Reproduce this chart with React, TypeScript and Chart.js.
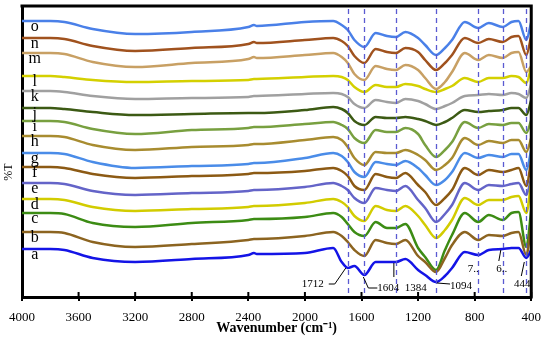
import React, { useEffect, useRef } from 'react';
import { Chart, registerables } from 'chart.js';

Chart.register(...registerables);

const wavenumbers = [4000, 3800, 3700, 3500, 3200, 2800, 2400, 2360, 2340, 2000, 1800, 1740, 1697, 1650, 1580, 1500, 1420, 1357, 1290, 1200, 1150, 1073, 1010, 960, 870, 775, 700, 601, 540, 490, 435, 400];

const seriesA = [51, 51, 50, 42, 38, 41, 45, 47, 46, 47, 52, 38, 32, 34, 25, 38, 38, 38, 41, 30, 25, 18, 24, 32, 48, 45, 50, 51, 52, 52, 42, 50];
const seriesB = [68, 68, 67, 58, 53, 56, 60, 61, 61, 64, 68, 64, 58, 50, 44, 60, 57, 56, 60, 44, 38, 28, 42, 55, 68, 60, 65, 64, 67, 68, 45, 75];
const seriesC = [87, 87, 86, 77, 73, 77, 80, 81, 81, 83, 87, 83, 76, 68, 64, 78, 72, 72, 76, 52, 43, 30, 50, 65, 87, 78, 85, 80, 87, 88, 53, 90];
const seriesD = [101, 101, 100, 93, 89, 91, 93, 94, 94, 97, 101, 98, 93, 84, 79, 94, 90, 89, 94, 84, 75, 62, 70, 80, 102, 95, 100, 100, 103, 104, 87, 118];
const seriesE = [117, 117, 116, 109, 105, 107, 109, 110, 110, 113, 117, 114, 110, 102, 97, 112, 110, 109, 114, 100, 92, 78, 86, 95, 117, 110, 115, 114, 116, 117, 105, 122];
const seriesF = [133, 133, 132, 126, 122, 124, 126, 127, 127, 129, 132, 129, 124, 114, 110, 126, 123, 122, 127, 115, 108, 95, 102, 110, 132, 125, 130, 128, 130, 132, 114, 140];
const seriesG = [147, 147, 146, 138, 132, 134, 136, 137, 137, 142, 147, 144, 138, 128, 123, 138, 136, 135, 139, 132, 125, 115, 120, 128, 147, 142, 145, 143, 146, 146, 130, 150];
const seriesH = [164, 164, 163, 155, 150, 153, 155, 156, 156, 160, 163, 160, 153, 142, 135, 148, 147, 147, 150, 145, 140, 130, 135, 142, 162, 155, 159, 157, 160, 160, 148, 162];
const seriesI = [179, 179, 178, 171, 166, 170, 172, 173, 173, 176, 178, 175, 171, 162, 157, 170, 168, 168, 172, 166, 155, 143, 150, 158, 178, 172, 176, 175, 177, 177, 167, 180];
const seriesJ = [192, 192, 191, 188, 185, 186, 187, 187, 187, 190, 193, 191, 187, 179, 175, 183, 182, 182, 183, 181, 179, 175, 178, 182, 190, 188, 189, 190, 192, 192, 185, 200];
const seriesK = [209, 209, 208, 204, 201, 202, 203, 204, 204, 206, 207, 206, 203, 196, 192, 200, 198, 197, 201, 199, 196, 191, 194, 197, 204, 205, 206, 205, 207, 206, 202, 216];
const seriesL = [224, 224, 223, 220, 218, 219, 220, 221, 221, 223, 224, 223, 220, 213, 208, 215, 213, 213, 216, 214, 211, 208, 211, 214, 222, 218, 222, 222, 224, 223, 217, 233];
const seriesM = [247, 247, 246, 238, 233, 237, 241, 243, 242, 245, 247, 243, 237, 226, 220, 234, 231, 230, 235, 230, 222, 211, 218, 228, 247, 240, 245, 242, 247, 248, 228, 234];
const seriesN = [262, 262, 261, 254, 249, 252, 256, 258, 257, 260, 262, 259, 254, 244, 237, 251, 248, 247, 252, 248, 240, 230, 237, 245, 262, 257, 261, 258, 263, 264, 245, 264];
const seriesO = [279, 279, 278, 271, 266, 268, 273, 275, 274, 278, 279, 275, 270, 260, 253, 267, 264, 263, 268, 262, 255, 245, 252, 260, 278, 272, 277, 273, 278, 279, 260, 278];

const seriesNames = ['a', 'b', 'c', 'd', 'e', 'f', 'g', 'h', 'i', 'j', 'k', 'l', 'm', 'n', 'o'];
const seriesValues = [seriesA, seriesB, seriesC, seriesD, seriesE, seriesF, seriesG, seriesH, seriesI, seriesJ, seriesK, seriesL, seriesM, seriesN, seriesO];
const seriesColors = [
  '#1414e6', '#8c6420', '#3c8c14', '#d2cc00', '#6464c8', '#8c5a14', '#4a8ce8', '#a88c30',
  '#78a040', '#3c5a14', '#a0a0a0', '#d4d000', '#c8a064', '#a0521e', '#4a80e8',
];

const xTickValues = [4000, 3600, 3200, 2800, 2400, 2000, 1600, 1200, 800, 400];
const bandWavenumbers = [1697, 1580, 1357, 1073, 775, 601, 435];
const bandLabels = ['1712', '1604', '1384', '1094', '7..', '6..', '444'];

const SERIF = '"Liberation Serif", "Times New Roman", serif';

// callout layout relative to (band pixel x, axis bottom)
const callouts = [
  { tx: -35, ty: -13, leader: [[-19, -13], [-13, -13], [-2, -29]] },
  { tx: 24, ty: -9, leader: [[13, -9], [4, -9], [-1, -20]] },
  { tx: 20, ty: -9, leader: [[-2, -34], [-2, -20]] },
  { tx: 25, ty: -11, leader: [[14, -13], [1, -14]] },
  { tx: -5, ty: -28, leader: [] },
  { tx: -1, ty: -28, leader: [[-4, -36], [-2, -47]] },
  { tx: -4, ty: -13, leader: [[-5, -21], [-2, -35]] },
];

const overlayPlugin = {
  id: 'overlay',
  afterDatasetsDraw(chart: any) {
    const { ctx, chartArea: ca, scales } = chart;
    const x = scales.x;
    const y = scales.y;
    ctx.save();
    // dashed band lines
    ctx.setLineDash([5, 4]);
    ctx.strokeStyle = '#5a5ad2';
    ctx.lineWidth = 1.3;
    bandWavenumbers.forEach((w) => {
      const px = Math.round(x.getPixelForValue(w)) + 0.5;
      ctx.beginPath();
      ctx.moveTo(px, ca.top + 3);
      ctx.lineTo(px, ca.bottom);
      ctx.stroke();
    });
    ctx.setLineDash([]);
    // frame top & right
    ctx.strokeStyle = '#000';
    ctx.lineWidth = 3;
    ctx.beginPath();
    ctx.moveTo(ca.left - 1.5, ca.top);
    ctx.lineTo(ca.right, ca.top);
    ctx.lineTo(ca.right, ca.bottom + 1.5);
    ctx.stroke();
    // inner tick marks
    ctx.lineWidth = 2;
    xTickValues.forEach((t) => {
      const px = x.getPixelForValue(t);
      ctx.beginPath();
      ctx.moveTo(px, ca.bottom);
      ctx.lineTo(px, ca.bottom - 5);
      ctx.stroke();
    });
    // series labels
    ctx.fillStyle = '#000';
    ctx.font = `16px ${SERIF}`;
    ctx.textAlign = 'center';
    ctx.textBaseline = 'alphabetic';
    const lx = x.getPixelForValue(3910);
    seriesValues.forEach((s, i) => {
      ctx.fillText(seriesNames[i], lx, y.getPixelForValue(s[0]) + 10);
    });
    // band callouts
    ctx.font = `11px ${SERIF}`;
    ctx.textBaseline = 'middle';
    ctx.lineWidth = 1;
    bandWavenumbers.forEach((w, i) => {
      const bx = x.getPixelForValue(w);
      const by = ca.bottom;
      const c = callouts[i];
      ctx.fillText(bandLabels[i], bx + c.tx, by + c.ty);
      if (c.leader.length) {
        ctx.beginPath();
        c.leader.forEach((p, k) => {
          if (k === 0) ctx.moveTo(bx + p[0], by + p[1]);
          else ctx.lineTo(bx + p[0], by + p[1]);
        });
        ctx.stroke();
      }
    });
    // y axis title
    ctx.save();
    ctx.translate(9, 172);
    ctx.rotate(-Math.PI / 2);
    ctx.font = `12px ${SERIF}`;
    ctx.textAlign = 'center';
    ctx.textBaseline = 'middle';
    ctx.fillText('%T', 0, 0);
    ctx.restore();
    ctx.restore();
  },
};

export default function App() {
  const canvasRef = useRef<HTMLCanvasElement | null>(null);

  useEffect(() => {
    const canvas = canvasRef.current;
    if (!canvas) return;
    const chart = new Chart(canvas, {
      type: 'line',
      data: {
        datasets: seriesValues.map((vals, i) => ({
          label: seriesNames[i],
          data: wavenumbers.map((w, k) => ({ x: w, y: vals[k] })),
          borderColor: seriesColors[i],
          backgroundColor: seriesColors[i],
          borderWidth: 2.5,
          pointRadius: 0,
          cubicInterpolationMode: 'monotone' as const,
          fill: false,
        })),
      },
      options: {
        responsive: false,
        animation: false,
        devicePixelRatio: 1,
        layout: { padding: { top: 6, right: 13, left: 0, bottom: 0 } },
        plugins: { legend: { display: false }, tooltip: { enabled: false } },
        scales: {
          x: {
            type: 'linear',
            reverse: true,
            min: 400,
            max: 4000,
            afterBuildTicks: (s: any) => {
              s.ticks = xTickValues.map((v) => ({ value: v }));
            },
            afterFit: (s: any) => {
              s.height = 42;
            },
            ticks: {
              color: '#000',
              font: { family: SERIF, size: 13 },
              padding: 9,
              maxRotation: 0,
              autoSkip: false,
              callback: (v: any) => String(v),
            },
            grid: { drawOnChartArea: false, drawTicks: true, tickLength: 4, color: '#000', lineWidth: 2 },
            border: { display: true, color: '#000', width: 3 },
            title: {
              display: true,
              text: 'Wavenumber (cm\u207B\u00B9)',
              color: '#000',
              font: { family: SERIF, size: 14, weight: 'bold' },
              padding: { top: 0, bottom: 2 },
            },
          },
          y: {
            type: 'linear',
            min: 3,
            max: 294,
            afterFit: (s: any) => {
              s.width = 18;
            },
            ticks: { display: false },
            grid: { display: false },
            border: { display: true, color: '#000', width: 3 },
          },
        },
      },
      plugins: [overlayPlugin],
    });
    return () => chart.destroy();
  }, []);

  return (
    <div style={{ position: 'fixed', left: 0, top: 0, width: 550, height: 339, background: '#fff' }}>
      <canvas ref={canvasRef} width={550} height={339} style={{ width: 550, height: 339 }} />
    </div>
  );
}
